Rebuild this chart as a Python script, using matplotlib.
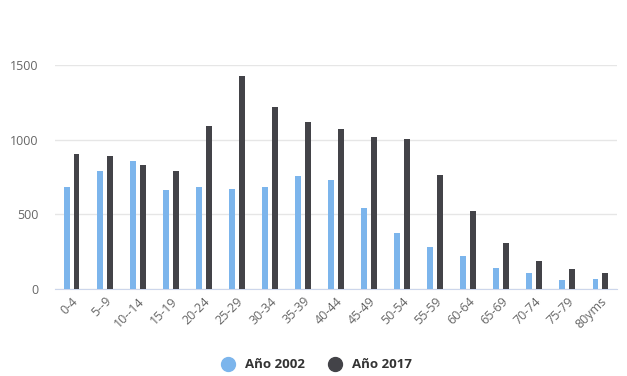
import numpy as np
import matplotlib.pyplot as plt
from matplotlib.lines import Line2D

plt.rcParams['font.family'] = ['Open Sans', 'DejaVu Sans']

age_groups = ["0-4", "5--9", "10--14", "15-19", "20-24", "25-29", "30-34", "35-39",
              "40-44", "45-49", "50-54", "55-59", "60-64", "65-69", "70-74", "75-79", "80yms"]
year_2002 = [685, 790, 859, 663, 685, 672, 685, 754, 732, 545, 377, 279, 223, 138, 105, 62, 69]
year_2017 = [902, 893, 830, 790, 1089, 1426, 1221, 1118, 1069, 1020, 1004, 761, 522, 308, 187, 132, 105]
series_names = ["Año 2002", "Año 2017"]
colors = ["#7cb5ec", "#434348"]

fig = plt.figure(figsize=(6.27, 3.76), dpi=100)
ax = fig.add_axes([55 / 627, 87 / 376, 562 / 627, 224 / 376])

x = np.arange(len(age_groups))
width = 0.18
ax.bar(x - 0.15, year_2002, width, color=colors[0], zorder=3)
ax.bar(x + 0.15, year_2017, width, color=colors[1], zorder=3)

ax.set_xlim(-0.5, len(age_groups) - 0.5)
ax.set_ylim(0, 1500)
ax.set_yticks([0, 500, 1000, 1500])
ax.grid(axis='y', color='#e6e6e6', linewidth=1, zorder=0)
ax.tick_params(axis='y', length=0, labelsize=9, labelcolor='#666666', pad=12)
ax.tick_params(axis='x', length=0, labelsize=9, labelcolor='#666666', pad=4)
ax.set_xticks(x)
ax.set_xticklabels(age_groups, rotation=45, ha='right', rotation_mode='anchor')

for side in ['top', 'right', 'left']:
    ax.spines[side].set_visible(False)
ax.spines['bottom'].set_color('#ccd6eb')

handles = [Line2D([], [], marker='o', linestyle='none', markersize=10,
                  markerfacecolor=c, markeredgecolor=c) for c in colors]
leg = fig.legend(handles, series_names, loc='center', bbox_to_anchor=(0.5, 11 / 376),
                 ncol=2, frameon=False, handletextpad=0.3, columnspacing=1.3,
                 prop={'size': 9.5, 'weight': 'bold'})
for t in leg.get_texts():
    t.set_color('#333333')

fig.savefig('out.png', dpi=100)
